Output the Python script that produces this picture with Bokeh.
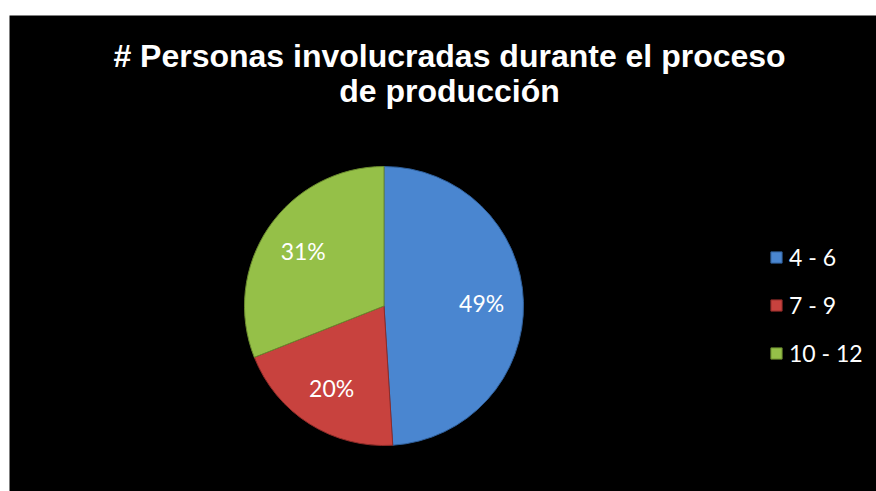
import math
from bokeh.plotting import figure
from bokeh.models import ColumnDataSource, Range1d, Legend, LegendItem, Label
from bokeh.core.properties import value
from bokeh.embed import file_html
from bokeh.resources import INLINE

# ---- data ----
categories = ["4 - 6", "7 - 9", "10 - 12"]
shares = [49, 20, 31]
pct_labels = ["49%", "20%", "31%"]
colors = ["#4A86D0", "#C8423E", "#95C048"]
edge_colors = ["#2F5F9A", "#8E2B28", "#6A8A2E"]
title_lines = ["# Personas involucradas durante el proceso", "de producción"]

# ---- layout (pixel-unit data space of the plot area) ----
PW, PH = 867, 476
cx, cy, r = 374.5, 185.5, 139.5

total = float(sum(shares))
starts, ends, lx, ly = [], [], [], []
acc = 0.0
for s in shares:
    a0 = math.pi / 2 - 2 * math.pi * acc / total
    a1 = math.pi / 2 - 2 * math.pi * (acc + s) / total
    starts.append(a0)
    ends.append(a1)
    mid = (a0 + a1) / 2
    lx.append(cx + 0.70 * r * math.cos(mid))
    ly.append(cy + 0.70 * r * math.sin(mid))
    acc += s

src = ColumnDataSource(dict(cat=categories, start=starts, end=ends, color=colors,
                            edge=edge_colors, lx=lx, ly=ly, lab=pct_labels))

p = figure(width=876, height=491, output_backend="svg", toolbar_location=None,
           x_range=Range1d(0, PW), y_range=Range1d(0, PH),
           min_border_left=9, min_border_top=15, min_border_right=0, min_border_bottom=0,
           background_fill_color="black", border_fill_color="white",
           outline_line_color=None)
p.axis.visible = False
p.grid.visible = False

renderers = []
for i in range(len(categories)):
    rr = p.wedge(x=cx, y=cy, radius=r, start_angle=starts[i], end_angle=ends[i],
                 direction="clock", fill_color=colors[i], line_color=edge_colors[i],
                 line_width=1)
    renderers.append(rr)

p.text(x="lx", y="ly", text="lab", source=src, text_color="white",
       text_font=value("Lato"), text_font_size="23px",
       text_align="center", text_baseline="middle")

legend = Legend(items=[LegendItem(label=categories[i], renderers=[renderers[i]])
                       for i in range(len(categories))],
                location=(760, 124), orientation="vertical",
                glyph_width=14, glyph_height=14, label_standoff=6,
                label_height=28, spacing=20, padding=0, margin=0,
                label_text_color="white", label_text_font="Lato",
                label_text_font_size="23px",
                background_fill_alpha=0, border_line_color=None)
p.add_layout(legend)

for txt, yy in zip(title_lines, [436, 401]):
    p.add_layout(Label(x=440, y=yy, x_units="screen", y_units="screen", text=txt,
                       text_color="white", text_font="Liberation Sans",
                       text_font_style="bold", text_font_size="32px",
                       text_align="center", text_baseline="alphabetic"))

open("out.html", "w").write(file_html(p, INLINE))
